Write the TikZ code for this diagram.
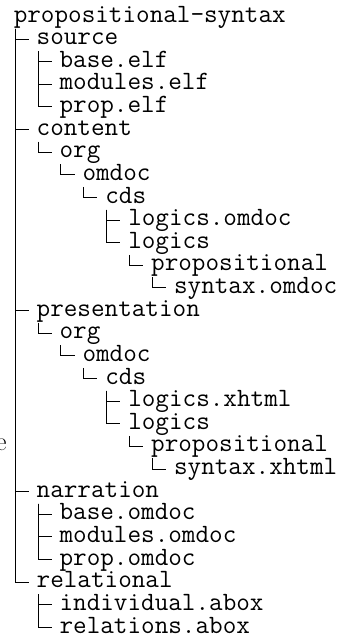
\documentclass[tikz,border=0pt]{standalone}
\begin{document}
\begin{tikzpicture}[x=1pt,y=-1pt,
  entry/.style={anchor=base west,inner sep=0pt,outer sep=0pt,
    font=\fontsize{26.4pt}{26.4pt}\selectfont\ttfamily},
  branch/.style={line width=0.8pt,black},
  stray/.style={anchor=base east,inner sep=0pt,outer sep=0pt,
    font=\fontsize{26.4pt}{26.4pt}\selectfont\rmfamily}]
\useasboundingbox (0,0) rectangle (342,643);
\def\rowy#1{22+22.63*#1}
\def\colx#1{13.8+22.9*#1}
\newcommand\entryat[4]{\node[entry] (#1) at ({\colx{#2}},{\rowy{#3}}) {#4};}
\newcommand\br[2]{\draw[branch] ([xshift=1.2pt,yshift=-6.5pt]#1.base west) |- ([xshift=-8pt,yshift=5.7pt]#2.base west);}
\entryat{r}{0}{0}{propositional-syntax}
\entryat{src}{1}{1}{source}
\entryat{srcA}{2}{2}{base.elf}
\entryat{srcB}{2}{3}{modules.elf}
\entryat{srcC}{2}{4}{prop.elf}
\entryat{con}{1}{5}{content}
\entryat{conorg}{2}{6}{org}
\entryat{conomd}{3}{7}{omdoc}
\entryat{concds}{4}{8}{cds}
\entryat{conlo}{5}{9}{logics.omdoc}
\entryat{conlg}{5}{10}{logics}
\entryat{conpr}{6}{11}{propositional}
\entryat{consy}{7}{12}{syntax.omdoc}
\entryat{pre}{1}{13}{presentation}
\entryat{preorg}{2}{14}{org}
\entryat{preomd}{3}{15}{omdoc}
\entryat{precds}{4}{16}{cds}
\entryat{prelx}{5}{17}{logics.xhtml}
\entryat{prelg}{5}{18}{logics}
\entryat{prepr}{6}{19}{propositional}
\entryat{presy}{7}{20}{syntax.xhtml}
\entryat{nar}{1}{21}{narration}
\entryat{narA}{2}{22}{base.omdoc}
\entryat{narB}{2}{23}{modules.omdoc}
\entryat{narC}{2}{24}{prop.omdoc}
\entryat{rel}{1}{25}{relational}
\entryat{relA}{2}{26}{individual.abox}
\entryat{relB}{2}{27}{relations.abox}
\node[stray] (e) at (6.5,450) {e};
\br{r}{src}\br{r}{con}\br{r}{pre}\br{r}{nar}\br{r}{rel}
\br{src}{srcA}\br{src}{srcB}\br{src}{srcC}
\br{con}{conorg}\br{conorg}{conomd}\br{conomd}{concds}
\br{concds}{conlo}\br{concds}{conlg}\br{conlg}{conpr}\br{conpr}{consy}
\br{pre}{preorg}\br{preorg}{preomd}\br{preomd}{precds}
\br{precds}{prelx}\br{precds}{prelg}\br{prelg}{prepr}\br{prepr}{presy}
\br{nar}{narA}\br{nar}{narB}\br{nar}{narC}
\br{rel}{relA}\br{rel}{relB}
\end{tikzpicture}
\end{document}
